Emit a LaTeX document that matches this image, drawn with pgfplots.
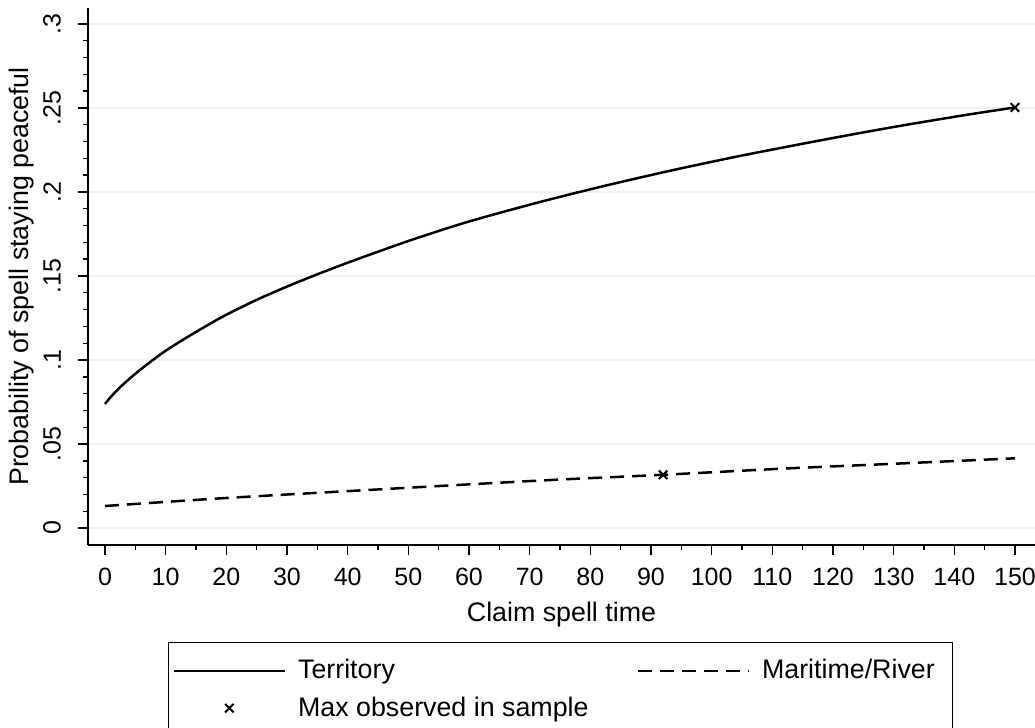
\documentclass[border=0pt]{standalone}
\usepackage{fontspec}
\setmainfont{Liberation Sans}
\usepackage{pgfplots}
\pgfplotsset{compat=1.18}
\definecolor{gridc}{RGB}{234,242,243}
\pgfplotsset{
  longline/.style={legend image code/.code={\draw[##1] (0bp,0bp) -- (55.5bp,0bp);}},
  longmark/.style={legend image code/.code={\path[draw=none,fill=none] (0bp,-2bp) rectangle (55.5bp,2bp);
    \draw[mark repeat=2,mark phase=2,##1] plot coordinates {(0bp,0bp) (27.75bp,0bp) (55.5bp,0bp)};}},
}
\begin{document}
\begin{tikzpicture}
\path[use as bounding box] (0,0) rectangle (517.5bp,364bp);
\begin{axis}[
  at={(44bp,91.5bp)}, anchor=south west,
  scale only axis, width=473.5bp, height=268.5bp,
  xmin=-2.8, xmax=153.3, ymin=-0.0101, ymax=0.3095,
  axis x line*=bottom, axis y line*=left,
  axis line style={line width=0.9bp, -},
  xtick={0,10,...,150}, minor x tick num=1,
  ytick={0,0.05,0.1,0.15,0.2,0.25,0.3}, yticklabels={0,.05,.1,.15,.2,.25,.3},
  minor y tick num=4,
  tick align=outside,
  major tick length=5bp, minor tick length=2.5bp,
  every tick/.style={black, line width=0.7bp},
  ymajorgrids, grid style={gridc, line width=0.8bp},
  /pgf/number format/assume math mode=true,
  tick label style={font=\fontsize{12.5bp}{15bp}\selectfont},
  xticklabel style={yshift=-3bp},
  yticklabel style={rotate=90, anchor=south, yshift=5bp},
  label style={font=\fontsize{13.4bp}{16bp}\selectfont},
  xlabel={Claim spell time}, ylabel={Probability of spell staying peaceful},
  xlabel style={at={(axis description cs:0.5,-0.130)}, anchor=center},
  ylabel style={at={(axis description cs:-0.0705,0.5)}, anchor=center},
  legend columns=2,
  legend cell align=left,
  legend style={at={(axis description cs:0.0845,-0.1806)}, anchor=north west,
    draw=black, line width=0.6bp, font=\fontsize{13.4bp}{16bp}\selectfont,
    inner xsep=2bp, inner ysep=6.5bp, row sep=3.5bp,
    /tikz/every odd column/.append style={column sep=4bp},
    /tikz/every even column/.append style={column sep=22bp}},
]
\addplot[black, line width=1.25bp, smooth, longline]
coordinates {
(0,0.0738) (1,0.0782) (2.7,0.0845) (5,0.0918) (7.6,0.0992) (10,0.1055)
(13.7,0.1139) (19.2,0.1254) (24.7,0.1353) (30.2,0.1440) (35.7,0.1520)
(41.2,0.1595) (46.6,0.1665) (51.3,0.1724) (59.6,0.1820) (70.6,0.1930)
(81.6,0.2030) (92.6,0.2122) (102.7,0.2200) (109.1,0.2246) (120.1,0.2322)
(131.0,0.2393) (142.0,0.2459) (150,0.2503)
};
\addlegendentry{Territory}
\addplot[black, line width=1.25bp, smooth, dash pattern=on 7bp off 4bp, longline]
coordinates {
(0,0.0131) (19.2,0.0177) (41.2,0.0222) (63.1,0.0266) (75.8,0.0290)
(92.0,0.0317) (112.6,0.0355) (129.1,0.0381) (150,0.0415)
};
\addlegendentry{Maritime/River\hspace*{5bp}}
\addplot[black, only marks, mark=x, mark size=3bp, mark options={line width=1bp, solid}, longmark]
coordinates {(150,0.2503) (92.0,0.0317)};
\addlegendentry{Max observed in sample}
\end{axis}
\end{tikzpicture}
\end{document}
